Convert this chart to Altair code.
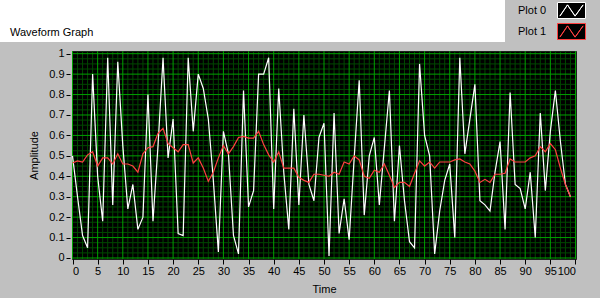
import altair as alt
import pandas as pd

# ---- data ----
time = list(range(100))
plot0 = [0.50, 0.30, 0.11, 0.05, 0.90, 0.40, 0.18, 0.98, 0.26, 0.96,
         0.55, 0.24, 0.36, 0.14, 0.20, 0.80, 0.18, 0.55, 0.98, 0.49,
         0.68, 0.12, 0.11, 0.98, 0.62, 0.90, 0.83, 0.68, 0.38, 0.03,
         0.62, 0.51, 0.11, 0.02, 0.82, 0.25, 0.33, 0.90, 0.90, 0.98,
         0.24, 0.83, 0.42, 0.14, 0.73, 0.26, 0.70, 0.36, 0.28, 0.59,
         0.66, 0.01, 0.71, 0.12, 0.29, 0.09, 0.49, 0.87, 0.21, 0.50,
         0.59, 0.26, 0.54, 0.82, 0.18, 0.55, 0.28, 0.08, 0.05, 0.95,
         0.60, 0.50, 0.02, 0.23, 0.38, 0.46, 0.10, 0.98, 0.51, 0.68,
         0.85, 0.28, 0.26, 0.23, 0.42, 0.57, 0.14, 0.81, 0.36, 0.34,
         0.24, 0.42, 0.10, 0.71, 0.33, 0.62, 0.82, 0.57, 0.36, 0.30]
plot1 = [0.465, 0.475, 0.47, 0.505, 0.52, 0.45, 0.49, 0.49, 0.46, 0.51,
         0.46, 0.46, 0.45, 0.42, 0.51, 0.54, 0.545, 0.61, 0.635, 0.56,
         0.54, 0.52, 0.555, 0.555, 0.465, 0.49, 0.44, 0.375, 0.42, 0.49,
         0.55, 0.51, 0.545, 0.59, 0.595, 0.587, 0.587, 0.62, 0.555, 0.505,
         0.47, 0.52, 0.44, 0.44, 0.44, 0.395, 0.38, 0.37, 0.41, 0.41,
         0.405, 0.40, 0.42, 0.41, 0.47, 0.46, 0.50, 0.48, 0.40, 0.39,
         0.43, 0.42, 0.46, 0.405, 0.345, 0.37, 0.37, 0.35, 0.415, 0.476,
         0.45, 0.47, 0.44, 0.47, 0.47, 0.47, 0.48, 0.485, 0.47, 0.46,
         0.425, 0.37, 0.385, 0.37, 0.41, 0.41, 0.415, 0.485, 0.47, 0.47,
         0.47, 0.49, 0.50, 0.545, 0.52, 0.56, 0.53, 0.44, 0.36, 0.30]
series_names = ["Plot 0", "Plot 1"]
series_colors = ["#ffffff", "#ff4040"]
x_ticks = [0, 5, 10, 15, 20, 25, 30, 35, 40, 45, 50, 55, 60, 65, 70, 75, 80, 85, 90, 95, 100]
y_ticks = [0, 0.1, 0.2, 0.3, 0.4, 0.5, 0.6, 0.7, 0.8, 0.9, 1]
x_minor = [i for i in range(101) if i % 5 != 0]
y_minor = [round(i * 0.025, 3) for i in range(41) if i % 4 != 0]
title_text = "Waveform Graph"

FONT = "Liberation Sans"
MINOR = "#004800"
MAJOR = "#00a000"

df = pd.DataFrame({
    "time": time + time,
    "value": plot0 + plot1,
    "series": [series_names[0]] * len(plot0) + [series_names[1]] * len(plot1),
})

xscale = alt.Scale(domain=[-0.1, 100.1], nice=False, zero=False)
yscale = alt.Scale(domain=[-0.0049, 1.0132], nice=False, zero=False)

x_axis = alt.Axis(values=x_ticks, title="Time", grid=False, domain=False,
                  tickColor="black", tickSize=5, offset=0, labelPadding=1,
                  labelFont=FONT, labelFontSize=11, labelColor="black",
                  titleFont=FONT, titleFontSize=11, titleFontWeight="normal",
                  titleColor="black", titleY=30, titleBaseline="middle")
y_axis = alt.Axis(values=y_ticks, format=".1~f", title="Amplitude", grid=False,
                  domain=False, tickColor="black", tickSize=4, offset=2,
                  labelPadding=2, labelFont=FONT, labelFontSize=11,
                  labelColor="black", titleFont=FONT, titleFontSize=11,
                  titleFontWeight="normal", titleColor="black", titleX=-36,
                  titleY=104, titleAngle=-90, titleBaseline="middle",
                  titleAlign="center")

one = pd.DataFrame({"label": [title_text]})

band = alt.Chart(one).mark_rect(color="white").encode(
    x=alt.value(-72), x2=alt.value(433), y=alt.value(-51), y2=alt.value(-9))

title = alt.Chart(one).mark_text(align="left", baseline="middle", font=FONT,
                                 fontSize=11, color="black").encode(
    x=alt.value(-62), y=alt.value(-18), text="label:N")

vminor = alt.Chart(pd.DataFrame({"x": x_minor})).mark_rule(
    color=MINOR, strokeWidth=1).encode(x=alt.X("x:Q", scale=xscale, axis=x_axis))
hminor = alt.Chart(pd.DataFrame({"y": y_minor})).mark_rule(
    color=MINOR, strokeWidth=1).encode(y=alt.Y("y:Q", scale=yscale, axis=y_axis))
vmajor = alt.Chart(pd.DataFrame({"x": x_ticks})).mark_rule(
    color=MAJOR, strokeWidth=1).encode(x=alt.X("x:Q", scale=xscale, axis=x_axis))
hmajor = alt.Chart(pd.DataFrame({"y": y_ticks})).mark_rule(
    color=MAJOR, strokeWidth=1).encode(y=alt.Y("y:Q", scale=yscale, axis=y_axis))

# legend swatch: black box plus a zig-zag (retraced so it encloses no area),
# drawn to the right of the label
swatch = ("M6,-1H9.5V1H6Z "
          "M6.3,0.7L7.25,-0.7L8.2,0.7L9.2,-0.7L8.2,0.7L7.25,-0.7Z")

lines = alt.Chart(df).mark_line(strokeWidth=1.2, clip=True).encode(
    x=alt.X("time:Q", scale=xscale, axis=x_axis),
    y=alt.Y("value:Q", scale=yscale, axis=y_axis),
    color=alt.Color("series:N",
                    scale=alt.Scale(domain=series_names, range=series_colors),
                    legend=alt.Legend(title=None, orient="none", legendX=429,
                                      legendY=-49, symbolType=swatch,
                                      symbolSize=256, symbolFillColor="black",
                                      symbolStrokeWidth=1, labelOffset=0,
                                      labelFont=FONT, labelFontSize=11,
                                      labelColor="black", rowPadding=0,
                                      padding=0, symbolOffset=0)),
)

chart = alt.layer(band, title, vminor, hminor, vmajor, hmajor, lines).properties(
    width=504, height=208,
    autosize=alt.AutoSizeParams(type="none"),
    padding={"left": 72, "top": 51, "right": 24, "bottom": 39},
    background="#c0c0c0",
).configure_view(fill="black", stroke="#202020", strokeWidth=1)

chart.save("out.html", embed_options={"renderer": "svg", "actions": False})
